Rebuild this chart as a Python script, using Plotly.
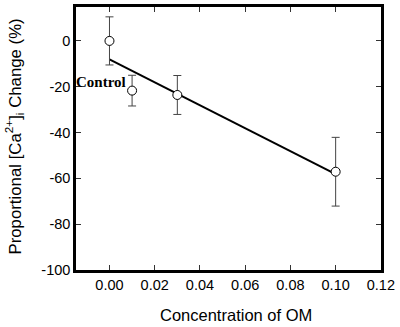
import numpy as np
import plotly.graph_objects as go

conc = [0.0, 0.01, 0.03, 0.10]
change = [0.0, -21.7, -23.6, -57.1]
err = [10.5, 6.7, 8.5, 15.0]
x_ticks = [0.00, 0.02, 0.04, 0.06, 0.08, 0.10, 0.12]
y_ticks = [0, -20, -40, -60, -80, -100]

slope, intercept = np.polyfit(conc, change, 1)
fit_x = [min(conc), max(conc)]
fit_y = [intercept + slope * v for v in fit_x]

fig = go.Figure()
fig.add_trace(go.Scatter(x=fit_x, y=fit_y, mode="lines",
                         line=dict(color="black", width=2), showlegend=False))
fig.add_trace(go.Scatter(
    x=conc, y=change, mode="markers",
    marker=dict(symbol="circle", size=9, color="white",
                line=dict(color="black", width=1)),
    error_y=dict(type="data", array=err, visible=True, color="#444",
                 thickness=1, width=4),
    showlegend=False))

fig.add_annotation(x=0.0, y=-17.8, xref="x", yref="y", text="<b>Control</b>",
                   showarrow=False, xanchor="right", yanchor="middle",
                   xshift=19,
                   font=dict(family="Liberation Serif", size=15, color="black"))

axis_common = dict(showline=True, linecolor="black", linewidth=2.5, mirror="ticks",
                   ticks="inside", ticklen=5, tickwidth=1, tickcolor="#333",
                   showgrid=False, zeroline=False, automargin=False,
                   tickfont=dict(family="Liberation Sans", size=14.5, color="black"))

fig.update_layout(
    width=400, height=327,
    margin=dict(l=76, r=19, t=7, b=57),
    paper_bgcolor="white", plot_bgcolor="white",
    xaxis=dict(range=[-0.0148, 0.12005], tickvals=x_ticks,
               ticktext=[f"{v:.2f}" for v in x_ticks],
               **axis_common),
    yaxis=dict(range=[-100, 14.8], tickvals=y_ticks,
               ticktext=[str(v) for v in y_ticks],
               **axis_common),
)
fig.add_annotation(x=(236 - 76) / 305, y=(270 - 315) / 263,
                   xref="paper", yref="paper", xanchor="center", yanchor="middle",
                   text="Concentration of OM", showarrow=False,
                   font=dict(family="Liberation Sans", size=16.5, color="black"))
fig.add_annotation(x=(14 - 76) / 305, y=(270 - 136.5) / 263, xref="paper", yref="paper",
                   xanchor="center", yanchor="middle",
                   text="Proportional [Ca<sup>2+</sup>]<sub>i</sub> Change (%)",
                   textangle=-90, showarrow=False,
                   font=dict(family="Liberation Sans", size=16.8, color="black"))

fig.write_html("out.html", config={"displayModeBar": False},
               post_script="document.body.style.margin='0';")
